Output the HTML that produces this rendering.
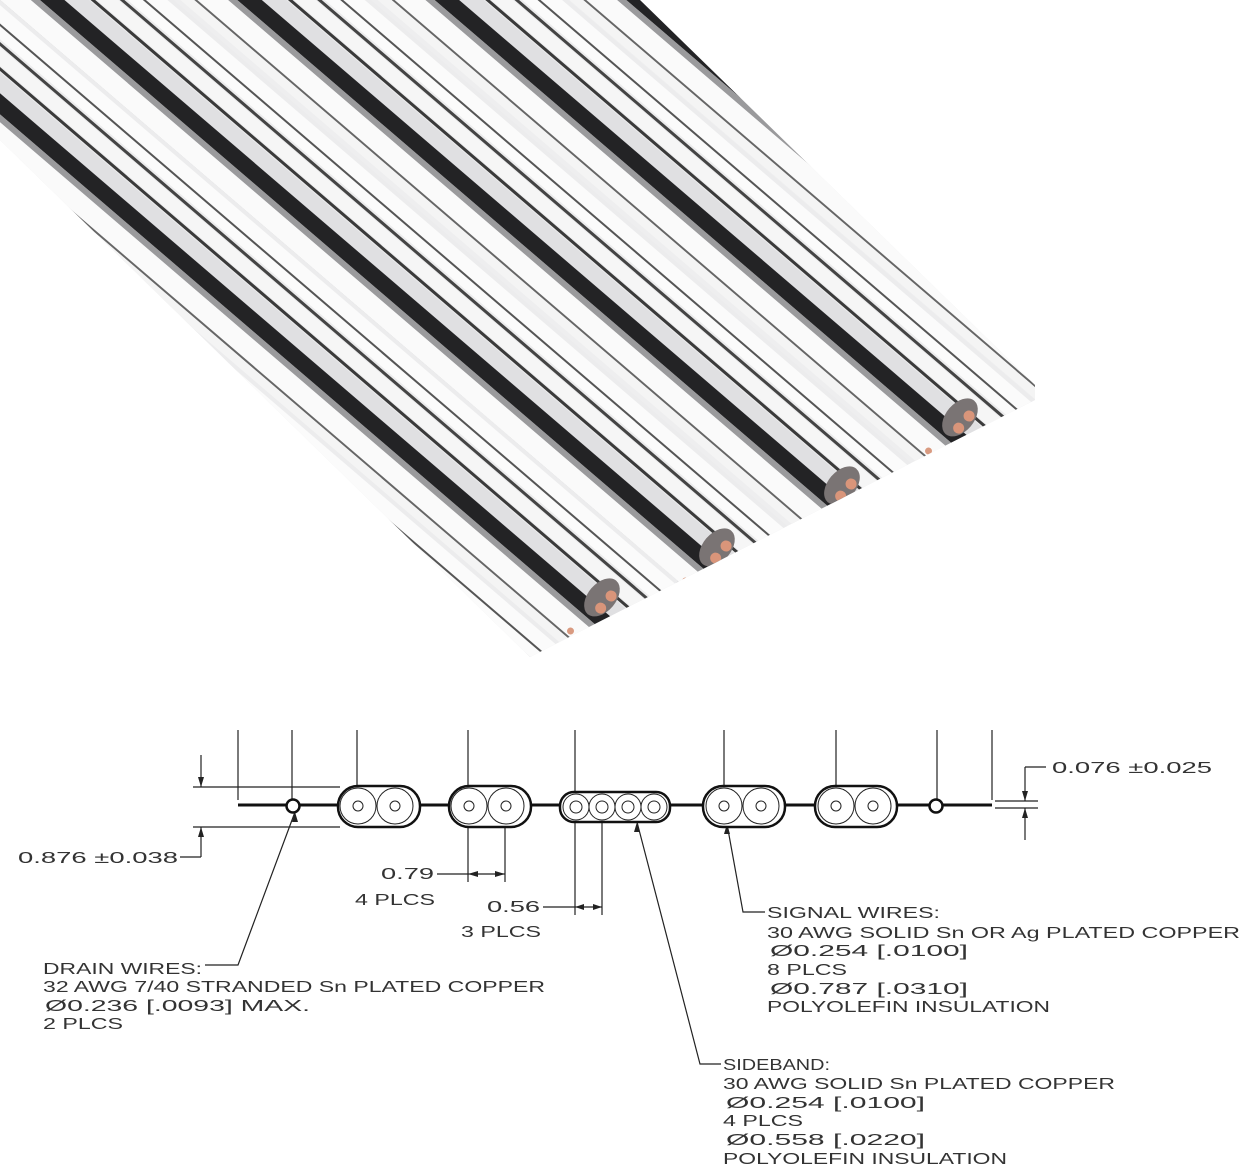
<!DOCTYPE html>
<html><head><meta charset="utf-8"><style>
html,body{margin:0;padding:0;background:#fff;}
svg{display:block;}
text{font-family:"Liberation Sans",sans-serif;font-size:16px;fill:#333;}
</style></head><body>
<svg width="1256" height="1173" viewBox="0 0 1256 1173" xmlns="http://www.w3.org/2000/svg">
<defs>
<clipPath id="cab"><polygon points="0,0 640,0 1035,385 1035,400 530,657 0,140"/></clipPath>
<g id="grp">
  <rect x="-1300" y="-62" width="1600" height="124" fill="#ececed"/>
  <rect x="-1300" y="-58" width="1600" height="26" fill="#fbfbfb"/>
  <rect x="-1300" y="-44" width="1600" height="2" fill="#555"/>
  <rect x="-1300" y="-30" width="1600" height="3" fill="#444"/>
  <rect x="-1300" y="-26" width="1600" height="14" fill="#f6f6f6"/>
  <rect x="-1300" y="-11" width="1600" height="3" fill="#3a3a3a"/>
  <rect x="-1300" y="-7" width="1600" height="16" fill="#e0e0e2"/>
  <rect x="-1300" y="9" width="1600" height="16" fill="#232325"/>
  <rect x="-1300" y="25" width="1600" height="6" fill="#9a9a9c"/>
  <rect x="-1300" y="31" width="1600" height="20" fill="#fafafa"/>
  <rect x="-1300" y="51" width="1600" height="2" fill="#666"/>
  <rect x="-1300" y="53" width="1600" height="9" fill="#f4f4f4"/>
</g>
<g id="cap">
  <ellipse cx="-4" cy="0" rx="14" ry="22" fill="#7a7474"/>
  <circle cx="2" cy="-7" r="5.5" fill="#d9957a"/>
  <circle cx="2" cy="9" r="5.5" fill="#d9957a"/>
  <circle cx="-6" cy="46" r="3.5" fill="#d99a80"/>
</g>
</defs>
<g clip-path="url(#cab)">
  <rect x="0" y="0" width="1100" height="700" fill="#eeeeef"/>
  <use href="#grp" transform="translate(1087,362) rotate(40.6)"/>
  <use href="#grp" transform="translate(963,420) rotate(40.6)"/>
  <use href="#grp" transform="translate(845,488) rotate(40.6)"/>
  <use href="#grp" transform="translate(720,550) rotate(40.6)"/>
  <use href="#grp" transform="translate(605,600) rotate(40.6)"/>
  <use href="#grp" transform="translate(485,660) rotate(40.6)"/>
  <use href="#cap" transform="translate(963,420) rotate(40.6)"/>
  <use href="#cap" transform="translate(845,488) rotate(40.6)"/>
  <use href="#cap" transform="translate(720,550) rotate(40.6)"/>
  <use href="#cap" transform="translate(605,600) rotate(40.6)"/>
</g>

<g stroke="#222" fill="none" stroke-width="1.2">
  <line x1="238" y1="730" x2="238" y2="800"/>
  <line x1="292" y1="730" x2="292" y2="800"/>
  <line x1="357" y1="730" x2="357" y2="806"/>
  <line x1="468" y1="730" x2="468" y2="882"/>
  <line x1="505" y1="806" x2="505" y2="882"/>
  <line x1="575" y1="730" x2="575" y2="915"/>
  <line x1="602" y1="806" x2="602" y2="915"/>
  <line x1="724" y1="730" x2="724" y2="806"/>
  <line x1="836" y1="730" x2="836" y2="806"/>
  <line x1="937" y1="730" x2="937" y2="800"/>
  <line x1="992" y1="730" x2="992" y2="800"/>
  <line x1="193" y1="787" x2="340" y2="787"/>
  <line x1="193" y1="827" x2="340" y2="827"/>
  <line x1="201" y1="755" x2="201" y2="787"/>
  <line x1="201" y1="827" x2="201" y2="857"/>
  <line x1="180" y1="857" x2="201" y2="857"/>
  <line x1="995" y1="801" x2="1038" y2="801"/>
  <line x1="995" y1="808" x2="1038" y2="808"/>
  <line x1="1025" y1="767" x2="1025" y2="801"/>
  <line x1="1025" y1="767" x2="1046" y2="767"/>
  <line x1="1025" y1="808" x2="1025" y2="840"/>
  <line x1="437" y1="874" x2="505" y2="874"/>
  <line x1="543" y1="907" x2="602" y2="907"/>
  <polyline points="295,812 238,965 205,965"/>
  <polyline points="727,824 743,912 765,912"/>
  <polyline points="637,822 700,1064 721,1064"/>
</g>
<g fill="#222">
  <polygon points="201,787 198,777 204,777"/>
  <polygon points="201,827 198,837 204,837"/>
  <polygon points="1025,801 1022,791 1028,791"/>
  <polygon points="1025,808 1022,818 1028,818"/>
  <polygon points="468,874 478,871 478,877"/>
  <polygon points="505,874 495,871 495,877"/>
  <polygon points="575,907 584,904 584,910"/>
  <polygon points="602,907 593,904 593,910"/>
  <polygon points="295,812 292,822 298,822"/>
  <polygon points="727,824 724,834 730,834"/>
  <polygon points="637,822 634,832 640,832"/>
</g>
<g stroke="#111" fill="#fff">
  <line x1="238" y1="805" x2="992" y2="805" stroke-width="3"/>
  <circle cx="293" cy="806" r="6.5" stroke-width="2.5"/>
  <circle cx="936" cy="806" r="6.5" stroke-width="2.5"/>
  <rect x="338" y="786" width="82" height="41" rx="20" stroke-width="2.5"/>
  <rect x="449" y="786" width="82" height="41" rx="20" stroke-width="2.5"/>
  <rect x="703" y="786" width="82" height="41" rx="20" stroke-width="2.5"/>
  <rect x="815" y="786" width="82" height="41" rx="20" stroke-width="2.5"/>
  <rect x="560" y="792" width="110" height="30" rx="14" stroke-width="2.5"/>
</g>
<g stroke="#222" fill="none" stroke-width="1">
  <circle cx="358" cy="806" r="18"/><circle cx="395" cy="806" r="18"/>
  <circle cx="358" cy="806" r="5"/><circle cx="395" cy="806" r="5"/>
  <circle cx="469" cy="806" r="18"/><circle cx="506" cy="806" r="18"/>
  <circle cx="469" cy="806" r="5"/><circle cx="506" cy="806" r="5"/>
  <circle cx="724" cy="806" r="18"/><circle cx="761" cy="806" r="18"/>
  <circle cx="724" cy="806" r="5"/><circle cx="761" cy="806" r="5"/>
  <circle cx="836" cy="806" r="18"/><circle cx="873" cy="806" r="18"/>
  <circle cx="836" cy="806" r="5"/><circle cx="873" cy="806" r="5"/>
  <circle cx="576" cy="807" r="13"/><circle cx="602" cy="807" r="13"/><circle cx="628" cy="807" r="13"/><circle cx="654" cy="807" r="13"/>
  <circle cx="576" cy="807" r="6"/><circle cx="602" cy="807" r="6"/><circle cx="628" cy="807" r="6"/><circle cx="654" cy="807" r="6"/>
</g>

<text x="18" y="863" textLength="160" lengthAdjust="spacingAndGlyphs">0.876 ±0.038</text>
<text x="1052" y="773" textLength="160" lengthAdjust="spacingAndGlyphs">0.076 ±0.025</text>
<text x="381" y="879" textLength="53" lengthAdjust="spacingAndGlyphs">0.79</text>
<text x="355" y="905" textLength="80" lengthAdjust="spacingAndGlyphs">4 PLCS</text>
<text x="487" y="912" textLength="53" lengthAdjust="spacingAndGlyphs">0.56</text>
<text x="461" y="937" textLength="80" lengthAdjust="spacingAndGlyphs">3 PLCS</text>

<text x="43" y="974" textLength="159" lengthAdjust="spacingAndGlyphs">DRAIN WIRES:</text>
<text x="43" y="992" textLength="502" lengthAdjust="spacingAndGlyphs">32 AWG 7/40 STRANDED Sn PLATED COPPER</text>
<text x="45" y="1011" textLength="265" lengthAdjust="spacingAndGlyphs">Ø0.236 [.0093] MAX.</text>
<text x="43" y="1029" textLength="80" lengthAdjust="spacingAndGlyphs">2 PLCS</text>

<text x="767" y="918" textLength="173" lengthAdjust="spacingAndGlyphs">SIGNAL WIRES:</text>
<text x="767" y="938" textLength="473" lengthAdjust="spacingAndGlyphs">30 AWG SOLID Sn OR Ag PLATED COPPER</text>
<text x="770" y="956" textLength="198" lengthAdjust="spacingAndGlyphs">Ø0.254 [.0100]</text>
<text x="767" y="975" textLength="80" lengthAdjust="spacingAndGlyphs">8 PLCS</text>
<text x="770" y="994" textLength="198" lengthAdjust="spacingAndGlyphs">Ø0.787 [.0310]</text>
<text x="767" y="1012" textLength="283" lengthAdjust="spacingAndGlyphs">POLYOLEFIN INSULATION</text>

<text x="723" y="1070" textLength="107" lengthAdjust="spacingAndGlyphs">SIDEBAND:</text>
<text x="723" y="1089" textLength="392" lengthAdjust="spacingAndGlyphs">30 AWG SOLID Sn PLATED COPPER</text>
<text x="726" y="1108" textLength="199" lengthAdjust="spacingAndGlyphs">Ø0.254 [.0100]</text>
<text x="723" y="1126" textLength="80" lengthAdjust="spacingAndGlyphs">4 PLCS</text>
<text x="726" y="1145" textLength="199" lengthAdjust="spacingAndGlyphs">Ø0.558 [.0220]</text>
<text x="723" y="1164" textLength="284" lengthAdjust="spacingAndGlyphs">POLYOLEFIN INSULATION</text>
</svg>
</body></html>
